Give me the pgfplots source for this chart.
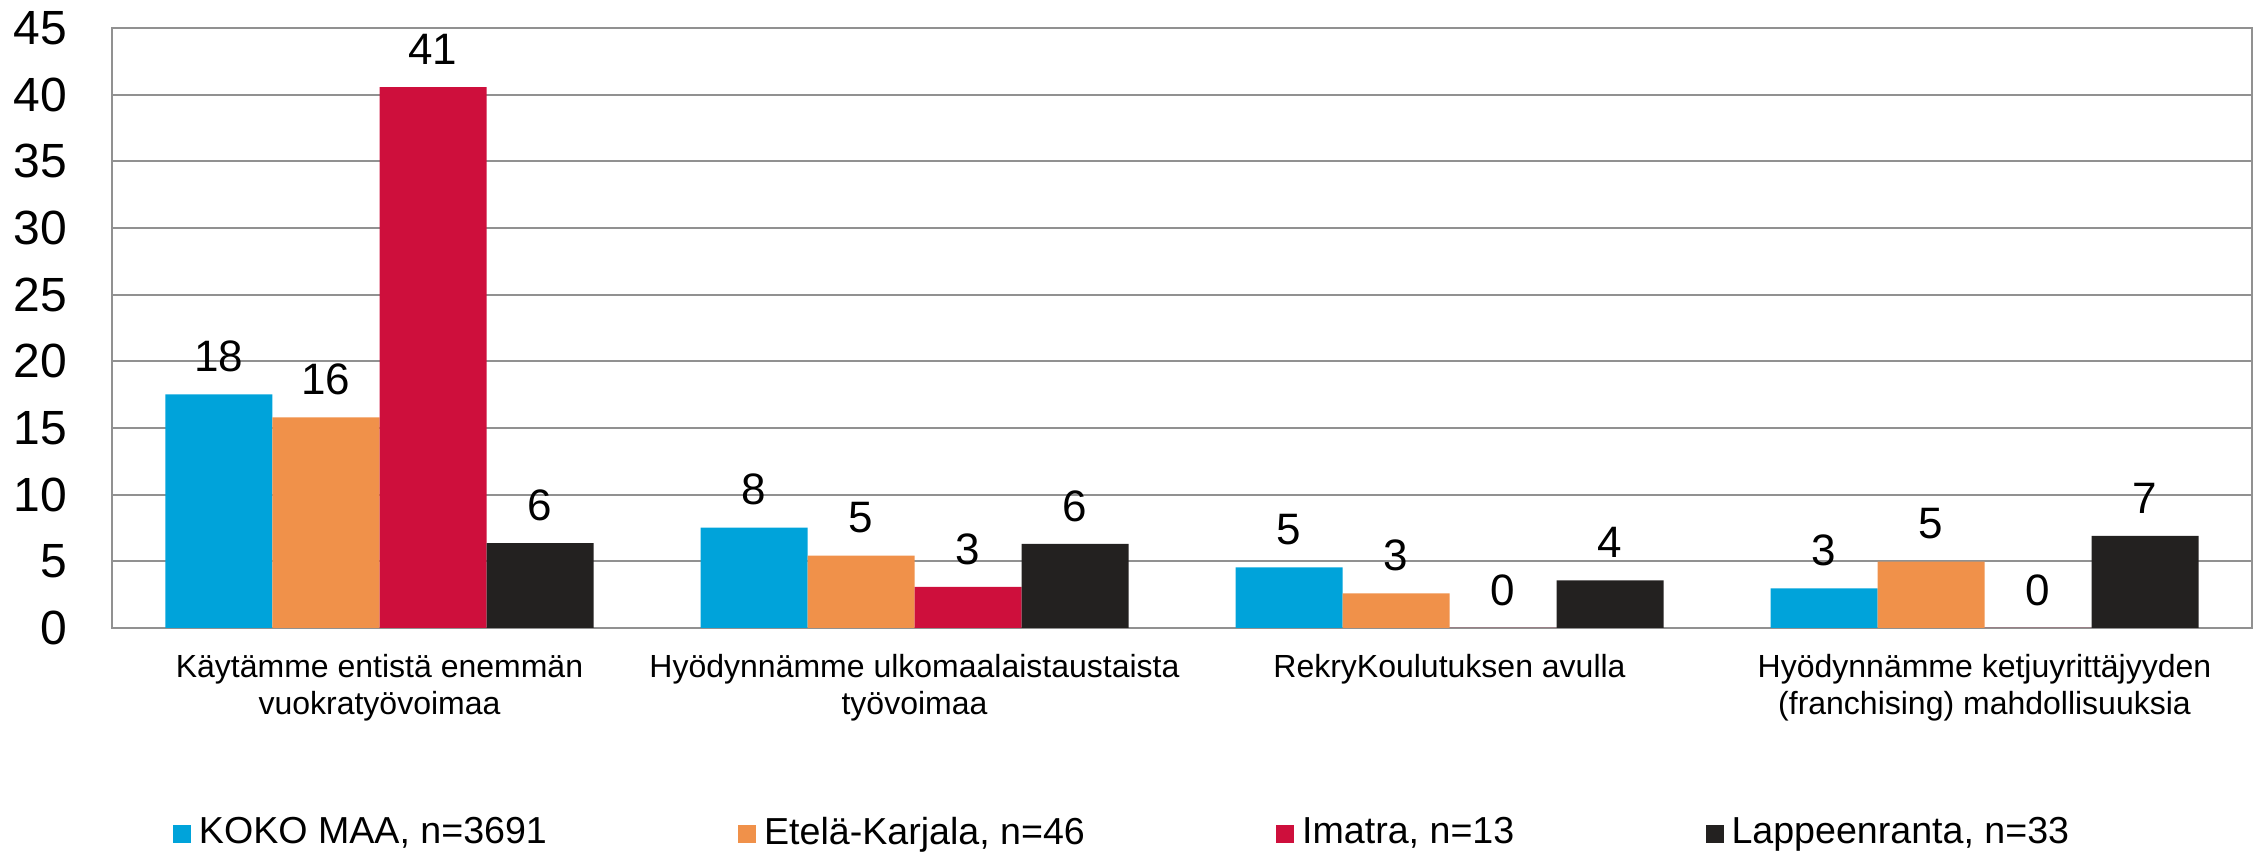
\documentclass[border=0pt]{standalone}
\usepackage{pgfplots}
\pgfplotsset{compat=1.18}
\usepackage{fontspec}
\setmainfont{Liberation Sans}

\definecolor{kblue}{RGB}{0,163,218}
\definecolor{korange}{RGB}{240,145,74}
\definecolor{kred}{RGB}{206,15,60}
\definecolor{kblack}{RGB}{35,33,32}
\definecolor{kgrid}{RGB}{145,145,145}

\begin{document}
\begin{tikzpicture}
\begin{axis}[
    name=ax,
    ybar=0pt,
    bar width=0.2,
    scale only axis,
    width=535pt,
    height=150pt,
    xmin=-0.5, xmax=3.5,
    enlarge x limits=false,
    ymin=0, ymax=45,
    ytick={0,5,...,45},
    xtick={0,1,2,3},
    xticklabels={
        {Käytämme entistä enemmän\\vuokratyövoimaa},
        {Hyödynnämme ulkomaalaistaustaista\\työvoimaa},
        {RekryKoulutuksen avulla},
        {Hyödynnämme ketjuyrittäjyyden\\(franchising) mahdollisuuksia}
    },
    major tick length=0pt,
    ymajorgrids,
    grid style={kgrid, line width=0.45pt},
    axis line style={kgrid, line width=0.45pt},
    /pgf/number format/assume math mode=true,
    yticklabel style={font=\fontsize{12}{14}\selectfont, inner sep=0pt, xshift=-11pt},
    xticklabel style={font=\fontsize{8}{9.2}\selectfont, align=center, anchor=north, inner sep=0pt, yshift=-6.5pt},
    nodes near coords,
    nodes near coords style={
        font=\fontsize{11}{13}\selectfont,
        anchor=south,
        inner sep=0pt,
        yshift=5.4pt,
        /pgf/number format/fixed,
        /pgf/number format/precision=0
    },
    legend columns=4,
    legend style={
        at={(0.4734,-0.343)},
        anchor=center,
        draw=none,
        font=\fontsize{9.4}{11}\selectfont,
        /tikz/every even column/.append style={column sep=45.8pt}
    },
    legend image code/.code={
        \fill[#1] (0pt,-2.25pt) rectangle (4.5pt,2.25pt);
    },
]

\addplot[fill=kblue, draw=none] coordinates {(0,17.52) (1,7.53) (2,4.55) (3,2.98)};
\addplot[fill=korange, draw=none] coordinates {(0,15.79) (1,5.43) (2,2.6) (3,4.98)};
\addplot[fill=kred, draw=none] coordinates {(0,40.56) (1,3.08) (2,0) (3,0)};
\addplot[fill=kblack, draw=none] coordinates {(0,6.37) (1,6.3) (2,3.58) (3,6.9)};

\legend{KOKO MAA{,} n=3691, Etelä-Karjala{,} n=46, Imatra{,} n=13, Lappeenranta{,} n=33}

\end{axis}
\pgfresetboundingbox
\path[use as bounding box] ([shift={(-28pt,-56.25pt)}]ax.south west) rectangle ([shift={(537pt,157pt)}]ax.south west);
\end{tikzpicture}
\end{document}
